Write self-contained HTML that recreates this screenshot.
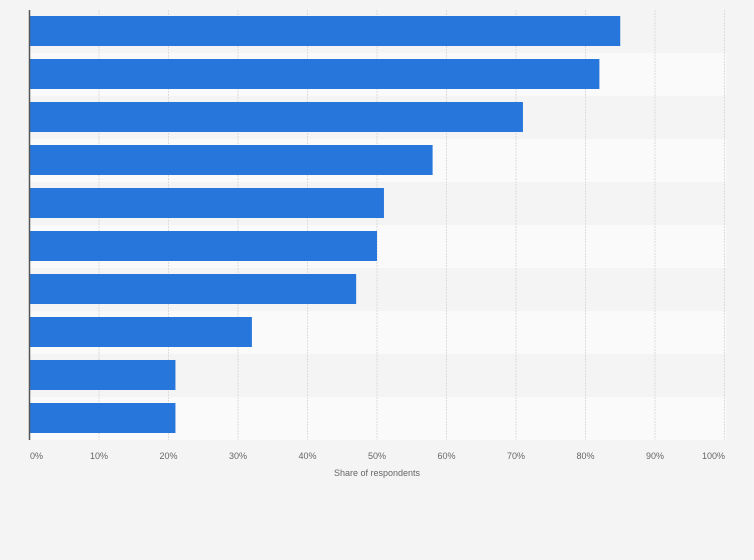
<!DOCTYPE html>
<html><head><meta charset="utf-8"><style>
body{margin:0;background:#f4f4f4;font-family:"Liberation Sans",sans-serif}
svg{display:block}
</style></head><body>
<svg id="c" width="754" height="560"></svg>
<script>
const categories=["Item 1","Item 2","Item 3","Item 4","Item 5","Item 6","Item 7","Item 8","Item 9","Item 10"];
const values=[85,82,71,58,51,50,47,32,21,21];
const ticks=[0,10,20,30,40,50,60,70,80,90,100];
const tickLabels=["0%","10%","20%","30%","40%","50%","60%","70%","80%","90%","100%"];
const NS="http://www.w3.org/2000/svg";
const svg=document.getElementById('c');
const x0=29.5,x1=724.5,y0=10,rowH=43;
const xs=v=>x0+(x1-x0)*v/100;
function mk(t,a){const e=document.createElementNS(NS,t);for(const k in a)e.setAttribute(k,a[k]);svg.appendChild(e);return e;}
categories.forEach((c,i)=>{
 const r=mk('rect',{x:x0,y:y0+i*rowH,width:x1-x0+2,height:rowH,fill:i%2?'#fafafa':'#f4f4f4'});
 
 
});
ticks.forEach((t,i)=>{
 if(i>0){const g=mk('line',{x1:xs(t),x2:xs(t),y1:y0,y2:y0+rowH*categories.length,stroke:'#dcdcdc','stroke-dasharray':'2,1'});
 
 }
 const l=mk('text',{x:xs(t)+(i==0?7:(i==10?-11:0)),y:459,'font-size':9,fill:'#666','text-anchor':'middle'});
 l.textContent=tickLabels[i];
 
 
});
values.forEach((v,i)=>{
 const b=mk('rect',{x:x0,y:y0+i*rowH+6,width:xs(v)-x0,height:30,fill:'#2776db'});
 
 
});
const ax=mk('line',{x1:x0,x2:x0,y1:y0,y2:y0+rowH*categories.length,stroke:'#555','stroke-width':1.5});


const tt=mk('text',{x:377,y:476,'font-size':9,fill:'#666','text-anchor':'middle'});
tt.textContent='Share of respondents';


</script>
</body></html>
